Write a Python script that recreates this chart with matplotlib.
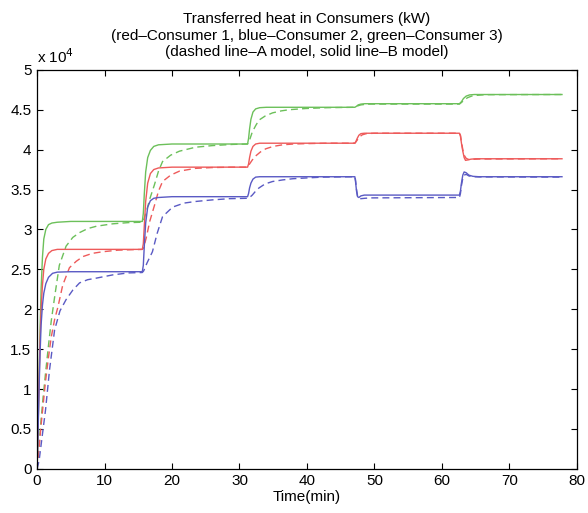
import numpy as np
import matplotlib
matplotlib.use("Agg")
from matplotlib import pyplot as plt

plt.rcParams['font.family'] = ['Liberation Sans', 'DejaVu Sans']

# Transferred heat, in units of 1e4 kW, read per consumer and model
# B model (solid lines)
t_green_b = [0, 0.15, 0.3, 0.45, 0.6, 0.8, 1.0, 1.3, 1.7, 2.2, 3.0, 5, 15.6,
             15.75, 15.9, 16.1, 16.4, 16.8, 17.3, 18, 20, 31.2,
             31.35, 31.5, 31.7, 32.0, 32.4, 33, 34, 47.1,
             47.3, 47.6, 48.0, 48.6, 62.6,
             62.9, 63.2, 63.6, 64.1, 64.8, 77.8]
q_green_b = [0, 0.5, 1.15, 1.75, 2.25, 2.65, 2.88, 3.0, 3.06, 3.08, 3.09, 3.10, 3.10,
             3.2, 3.45, 3.72, 3.9, 3.99, 4.04, 4.06, 4.07, 4.07,
             4.14, 4.26, 4.38, 4.47, 4.51, 4.525, 4.53, 4.53,
             4.54, 4.56, 4.57, 4.575, 4.575,
             4.6, 4.64, 4.67, 4.685, 4.69, 4.69]

t_red_b = [0, 0.15, 0.3, 0.45, 0.6, 0.8, 1.0, 1.3, 1.7, 2.2, 3.0, 5, 15.6,
           15.75, 15.9, 16.1, 16.4, 16.8, 17.3, 18, 20, 31.2,
           31.35, 31.5, 31.7, 32.0, 32.4, 33, 34, 47.1,
           47.25, 47.45, 47.7, 48.0, 48.5, 62.6,
           62.75, 62.9, 63.1, 63.3, 63.5, 63.8, 64.3, 65, 77.8]
q_red_b = [0, 0.5, 1.1, 1.6, 2.0, 2.3, 2.5, 2.63, 2.7, 2.735, 2.75, 2.75, 2.75,
           2.82, 3.05, 3.35, 3.58, 3.7, 3.75, 3.77, 3.78, 3.78,
           3.82, 3.9, 3.98, 4.04, 4.07, 4.08, 4.08, 4.08,
           4.1, 4.14, 4.18, 4.2, 4.205, 4.205,
           4.17, 4.08, 3.98, 3.9, 3.865, 3.87, 3.88, 3.885, 3.885]

t_blue_b = [0, 0.15, 0.3, 0.45, 0.6, 0.8, 1.0, 1.3, 1.7, 2.3, 3.0, 5, 15.6,
            15.75, 15.9, 16.1, 16.4, 16.8, 17.3, 18, 20, 31.2,
            31.35, 31.5, 31.7, 32.0, 32.4, 33, 34, 47.1,
            47.2, 47.35, 47.5, 47.7, 48.0, 48.5, 62.6,
            62.75, 62.9, 63.1, 63.3, 63.6, 64.0, 64.6, 65.5, 77.8]
q_blue_b = [0, 0.45, 1.0, 1.45, 1.8, 2.05, 2.2, 2.32, 2.4, 2.45, 2.465, 2.47, 2.47,
            2.55, 2.8, 3.08, 3.28, 3.36, 3.39, 3.40, 3.41, 3.41,
            3.45, 3.52, 3.58, 3.63, 3.655, 3.66, 3.66, 3.66,
            3.6, 3.48, 3.41, 3.40, 3.42, 3.43, 3.43,
            3.48, 3.58, 3.68, 3.72, 3.71, 3.68, 3.665, 3.66, 3.66]

# A model (dashed lines)
t_green_a = [0, 0.3, 0.6, 0.9, 1.26, 1.7, 2.1, 2.6, 3.3, 4.3, 5.3, 6.3, 7.5, 8.8, 11.2, 13.5, 15.6,
             15.8, 16.2, 16.7, 17.4, 18.0, 18.6, 19.8, 21.1, 23.5, 26, 29, 31.2,
             31.5, 31.9, 32.4, 32.9, 33.8, 34.9, 36.2, 37.4, 39.9, 43, 47.1,
             47.3, 47.6, 48.0, 48.5, 49.3, 62.6,
             62.9, 63.3, 63.8, 64.4, 65.2, 66.5, 77.8]
q_green_a = [0, 0.3, 0.62, 0.9, 1.2, 1.55, 1.85, 2.15, 2.55, 2.79, 2.9, 2.96, 3.01, 3.04, 3.07, 3.085, 3.09,
             3.12, 3.22, 3.38, 3.56, 3.73, 3.85, 3.93, 3.98, 4.03, 4.05, 4.065, 4.07,
             4.12, 4.22, 4.3, 4.37, 4.42, 4.46, 4.485, 4.5, 4.515, 4.525, 4.53,
             4.535, 4.55, 4.56, 4.565, 4.57, 4.57,
             4.59, 4.62, 4.65, 4.67, 4.68, 4.688, 4.69]

t_red_a = [0, 0.3, 0.6, 0.9, 1.26, 1.7, 2.1, 2.6, 3.1, 3.8, 4.8, 5.8, 6.8, 8.2, 9.7, 12, 15.6,
           15.8, 16.2, 16.7, 17.4, 18.0, 18.6, 19.8, 21.1, 23.5, 26, 29, 31.2,
           31.5, 31.9, 32.4, 33.1, 33.9, 35, 36.4, 38, 40, 43, 47.1,
           47.25, 47.5, 47.8, 48.2, 48.8, 50, 62.6,
           62.75, 62.9, 63.1, 63.3, 63.6, 64, 64.6, 65.5, 77.8]
q_red_a = [0, 0.25, 0.55, 0.8, 1.1, 1.4, 1.65, 1.87, 2.03, 2.3, 2.52, 2.6, 2.66, 2.7, 2.72, 2.74, 2.75,
           2.77, 2.9, 3.1, 3.3, 3.48, 3.6, 3.68, 3.73, 3.765, 3.775, 3.78, 3.78,
           3.82, 3.87, 3.92, 3.97, 4.01, 4.04, 4.06, 4.07, 4.075, 4.08, 4.08,
           4.095, 4.125, 4.16, 4.185, 4.2, 4.205, 4.205,
           4.18, 4.1, 4.0, 3.93, 3.89, 3.875, 3.878, 3.882, 3.885]

t_blue_a = [0, 0.3, 0.6, 0.9, 1.26, 1.85, 2.6, 3.4, 4.3, 5.3, 6.3, 7.5, 8.8, 11.2, 13.5, 15.6,
            15.8, 16.3, 17.1, 17.8, 18.6, 20.1, 21.8, 23.5, 26, 28.5, 31.2,
            31.5, 31.9, 32.4, 32.9, 33.8, 34.9, 36.4, 37.9, 40, 42.3, 47.1,
            47.2, 47.35, 47.5, 47.7, 48.0, 48.6, 49.5, 62.6,
            62.75, 62.9, 63.1, 63.3, 63.6, 64.0, 64.6, 65.5, 77.8]
q_blue_a = [0, 0.1, 0.3, 0.5, 0.74, 1.24, 1.74, 1.98, 2.12, 2.24, 2.33, 2.37, 2.39, 2.43, 2.455, 2.46,
            2.48, 2.58, 2.72, 2.95, 3.16, 3.28, 3.33, 3.35, 3.37, 3.385, 3.39,
            3.40, 3.43, 3.48, 3.52, 3.57, 3.60, 3.62, 3.635, 3.645, 3.655, 3.66,
            3.62, 3.5, 3.42, 3.39, 3.385, 3.39, 3.395, 3.40,
            3.45, 3.55, 3.64, 3.68, 3.69, 3.67, 3.66, 3.658, 3.655]

x_ticks = np.arange(0, 81, 10)
y_ticks = np.arange(0, 5.01, 0.5)
y_tick_labels = ['0', '0.5', '1', '1.5', '2', '2.5', '3', '3.5', '4', '4.5', '5']

red = '#ee5a5a'
blue = '#5a5ac4'
green = '#6cc05a'
dash = (0, (5, 3))

fig = plt.figure(figsize=(5.88, 5.13), dpi=100)
ax = fig.add_axes([0.063, 0.086, 0.918, 0.778])

ax.plot(t_green_a, q_green_a, color=green, lw=1.0, linestyle=dash)
ax.plot(t_red_a, q_red_a, color=red, lw=1.0, linestyle=dash)
ax.plot(t_blue_a, q_blue_a, color=blue, lw=1.0, linestyle=dash)
ax.plot(t_green_b, q_green_b, color=green, lw=1.0)
ax.plot(t_red_b, q_red_b, color=red, lw=1.0)
ax.plot(t_blue_b, q_blue_b, color=blue, lw=1.0)

ax.set_xlim(0, 80)
ax.set_ylim(0, 5)
ax.set_xticks(x_ticks)
ax.set_yticks(y_ticks)
ax.set_yticklabels(y_tick_labels)
ax.tick_params(direction='in', top=True, right=True, length=4, width=0.8,
               labelsize=11, pad=4)
for s in ax.spines.values():
    s.set_linewidth(0.9)

ax.text(0.0, 1.01, r'x 10$^{4}$', transform=ax.transAxes, fontsize=11,
        ha='left', va='bottom')
ax.set_xlabel('Time(min)', fontsize=11, labelpad=1)
ax.set_title('Transferred heat in Consumers (kW)\n'
             '(red\u2013Consumer 1, blue\u2013Consumer 2, green\u2013Consumer 3)\n'
             '(dashed line\u2013A model, solid line\u2013B model)',
             fontsize=11, linespacing=1.2, pad=10)

fig.savefig('out.png', dpi=100)
